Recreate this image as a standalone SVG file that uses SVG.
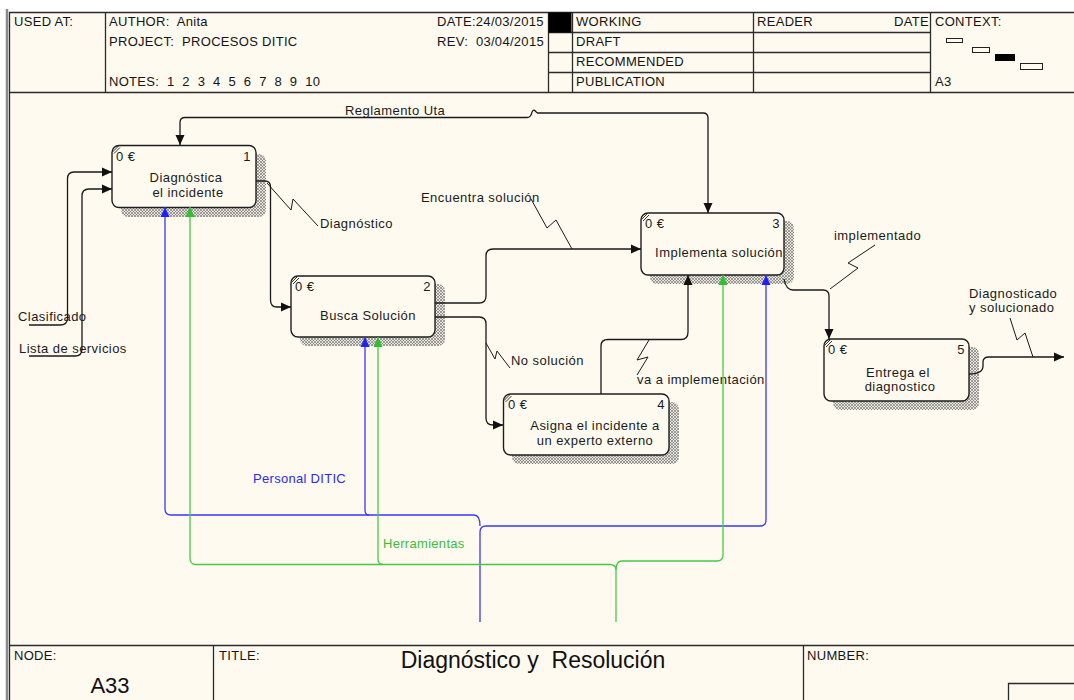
<svg xmlns="http://www.w3.org/2000/svg" width="1074" height="700" viewBox="0 0 1074 700">
  <defs>
    <style>
      text { white-space: pre; }
      .frame { fill: none; stroke: #2b2b2b; stroke-width: 1.3; }
      .hdr { font-family: "Liberation Sans", Arial, sans-serif; font-size: 13px; letter-spacing: 0.3px; fill: #141414; }
      .lbl { font-family: "Liberation Sans", Arial, sans-serif; font-size: 13px; letter-spacing: 0.45px; fill: #1a1a1a; }
      .ctr { text-anchor: middle; }
      .end { text-anchor: end; }
      .box { fill: #FFFAF0; stroke: #1e1e1e; stroke-width: 1.4; }
      .shadow { fill: url(#hatch); }
      .tick { stroke: #1e1e1e; stroke-width: 0.9; fill: none; }
      .arr { fill: none; stroke: #1a1a1a; stroke-width: 1.3; }
      .arr-k { marker-end: url(#headK); }
      .blue { fill: none; stroke: #3838f8; stroke-width: 1.3; }
      .green { fill: none; stroke: #48c848; stroke-width: 1.3; }
      .squig { fill: none; stroke: #1a1a1a; stroke-width: 1; }
    </style>
    <pattern id="hatch" width="3" height="3" patternUnits="userSpaceOnUse">
      <rect width="3" height="3" fill="#ebe7df"/>
      <path d="M0,0 L3,3 M3,0 L0,3" stroke="#6a6a6a" stroke-width="0.6"/>
    </pattern>
    <marker id="headK" markerWidth="12" markerHeight="10" refX="10" refY="5" orient="auto" markerUnits="userSpaceOnUse">
      <path d="M0,0.5 L10,5 L0,9.5 z" fill="#111"/>
    </marker>
    <marker id="headB" markerWidth="12" markerHeight="10" refX="10" refY="5" orient="auto" markerUnits="userSpaceOnUse">
      <path d="M0,0.5 L10,5 L0,9.5 z" fill="#2020ff"/>
    </marker>
    <marker id="headG" markerWidth="12" markerHeight="10" refX="10" refY="5" orient="auto" markerUnits="userSpaceOnUse">
      <path d="M0,0.5 L10,5 L0,9.5 z" fill="#30c030"/>
    </marker>
  </defs>

  <!-- page -->
  <rect x="0" y="0" width="1074" height="700" fill="#ffffff"/>
  <rect x="9" y="12" width="1070" height="700" fill="#FFFAF0"/>
  <line x1="7" y1="9" x2="7" y2="700" stroke="#8a8a8a" stroke-width="2.5"/>

  <!-- title block (header) -->
  <g id="header">
    <path class="frame" d="M9.5,700 V12.5 H1074 M9.5,92.5 H1074"/>
    <path class="frame" d="M105.5,12.5 V92.5 M548.5,12.5 V92.5 M572.5,12.5 V92.5 M753.5,12.5 V92.5 M930.5,12.5 V92.5"/>
    <path class="frame" d="M548.5,32.5 H930.5 M548.5,52.5 H930.5 M548.5,72.5 H930.5"/>
    <text class="hdr" x="14" y="26">USED AT:</text>
    <text class="hdr" x="109" y="26">AUTHOR:  Anita</text>
    <text class="hdr" x="109" y="46">PROJECT:  PROCESOS DITIC</text>
    <text class="hdr" x="109" y="86">NOTES:  1  2  3  4  5  6  7  8  9  10</text>
    <text class="hdr" x="437" y="26" letter-spacing="0.7">DATE:24/03/2015</text>
    <text class="hdr" x="437" y="46" letter-spacing="0.6">REV:  03/04/2015</text>
    <rect x="548.5" y="12.5" width="23" height="20" fill="#000"/>
    <text class="hdr" x="576" y="26">WORKING</text>
    <text class="hdr" x="576" y="46">DRAFT</text>
    <text class="hdr" x="576" y="66">RECOMMENDED</text>
    <text class="hdr" x="576" y="86">PUBLICATION</text>
    <text class="hdr" x="757" y="26">READER</text>
    <text class="hdr end" x="929" y="26">DATE</text>
    <text class="hdr" x="935" y="26">CONTEXT:</text>
    <text class="hdr" x="935" y="86">A3</text>
    <rect x="946.5" y="38.5" width="16" height="4" fill="none" stroke="#222" stroke-width="1"/>
    <rect x="972.5" y="47.5" width="17" height="5" fill="none" stroke="#222" stroke-width="1"/>
    <rect x="995.5" y="54.5" width="19" height="6" fill="#000" stroke="#000" stroke-width="1"/>
    <rect x="1020.5" y="63.5" width="22" height="6" fill="none" stroke="#222" stroke-width="1"/>
  </g>

  <!-- title block (footer) -->
  <g id="footer">
    <path class="frame" d="M9.5,645.5 H1074 M213.5,645.5 V700 M803.5,645.5 V700 M1008.5,700 V683.5 H1074"/>
    <text class="hdr" x="14" y="660">NODE:</text>
    <text class="hdr" x="219" y="660">TITLE:</text>
    <text class="hdr" x="807" y="660">NUMBER:</text>
    <text x="110" y="693" text-anchor="middle" font-family="'Liberation Sans', Arial, sans-serif" font-size="22" fill="#111">A33</text>
    <text x="533" y="668" text-anchor="middle" font-family="'Liberation Sans', Arial, sans-serif" font-size="23" fill="#111">Diagnóstico y  Resolución</text>
  </g>

  <!-- activity 1 -->
  <g id="node-1">
    <rect class="shadow" x="121" y="154" width="145" height="63" rx="7"/>
    <rect class="box" x="112" y="145.5" width="144" height="62" rx="7"/>
    <path class="tick" d="M112.5,152 L118.5,146 M114,153.5 L120,147.5"/>
    <text class="lbl" x="116" y="161">0 €</text>
    <text class="lbl end" x="251" y="161">1</text>
    <text class="lbl ctr" x="186" y="182">Diagnóstica</text>
    <text class="lbl ctr" x="188" y="197">el incidente</text>
  </g>

  <!-- activity 2 -->
  <g id="node-2">
    <rect class="shadow" x="300" y="284" width="145" height="62" rx="7"/>
    <rect class="box" x="291" y="276" width="144" height="61" rx="7"/>
    <path class="tick" d="M291.5,282.5 L297.5,276.5 M293,284 L299,278"/>
    <text class="lbl" x="295" y="291">0 €</text>
    <text class="lbl end" x="431" y="291">2</text>
    <text class="lbl ctr" x="368" y="320">Busca Solución</text>
  </g>

  <!-- activity 3 -->
  <g id="node-3">
    <rect class="shadow" x="650" y="221" width="144" height="63" rx="7"/>
    <rect class="box" x="641" y="213" width="143" height="62" rx="7"/>
    <path class="tick" d="M641.5,219.5 L647.5,213.5 M643,221 L649,215"/>
    <text class="lbl" x="645" y="228">0 €</text>
    <text class="lbl end" x="780" y="228">3</text>
    <text class="lbl ctr" x="719" y="257">Implementa solución</text>
  </g>

  <!-- activity 4 -->
  <g id="node-4">
    <rect class="shadow" x="512" y="402" width="167" height="62" rx="7"/>
    <rect class="box" x="503.5" y="394" width="165.5" height="61" rx="7"/>
    <path class="tick" d="M504,400.5 L510,394.5 M505.5,402 L511.5,396"/>
    <text class="lbl" x="508" y="409">0 €</text>
    <text class="lbl end" x="665" y="409">4</text>
    <text class="lbl ctr" x="595" y="430">Asigna el incidente a</text>
    <text class="lbl ctr" x="595" y="445">un experto externo</text>
  </g>

  <!-- activity 5 -->
  <g id="node-5">
    <rect class="shadow" x="833" y="347" width="146" height="63" rx="7"/>
    <rect class="box" x="824" y="339" width="145" height="62" rx="7"/>
    <path class="tick" d="M824.5,345.5 L830.5,339.5 M826,347 L832,341"/>
    <text class="lbl" x="828" y="354">0 €</text>
    <text class="lbl end" x="965" y="354">5</text>
    <text class="lbl ctr" x="898" y="377">Entrega el</text>
    <text class="lbl ctr" x="900" y="391">diagnostico</text>
  </g>

  <!-- arrows -->
  <g id="connectors">
    <!-- control: Reglamento Uta -->
    <path class="arr arr-k" d="M527,117.5 H185 Q180,117.5 180,122.5 V145"/>
    <path class="arr" d="M527,117.5 Q531,117.5 532,112 Q534,108 537,113"/>
    <path class="arr arr-k" d="M537,113 H703 Q708,113 708,118 V213"/>
    <text class="lbl" x="345" y="115">Reglamento Uta</text>

    <!-- inputs -->
    <path class="arr arr-k" d="M29,325 H60 Q67.5,325 67.5,318 V179 Q67.5,172 74,172 H112"/>
    <text class="lbl" x="18" y="321">Clasificado</text>
    <path class="arr arr-k" d="M29,356 H75 Q82,356 82,349 V196 Q82,189 89,189 H112"/>
    <text class="lbl" x="19" y="353">Lista de servicios</text>

    <!-- Diagnóstico -->
    <path class="arr arr-k" d="M256,181 H265 Q270.5,181 270.5,187 V300 Q270.5,307 277,307 H291"/>
    <path class="squig" d="M267,183 L291,210 L293,199 L318,226"/>
    <text class="lbl" x="320" y="228">Diagnóstico</text>

    <!-- Encuentra solución -->
    <path class="arr arr-k" d="M435,303 H479 Q486,303 486,296 V256 Q486,249 493,249 H641"/>
    <path class="squig" d="M572,249 L556,220 L547,228 L531,199"/>
    <text class="lbl" x="421" y="202">Encuentra solución</text>

    <!-- No solución -->
    <path class="arr arr-k" d="M435,317 H479 Q486,317 486,324 V418 Q486,425 493,425 H503"/>
    <path class="squig" d="M486,343 L495,359 L497,351 L510,368"/>
    <text class="lbl" x="511" y="365">No solución</text>

    <!-- va a implementación -->
    <path class="arr arr-k" d="M601,394 V346 Q601,339.5 608,339.5 H681 Q688,339.5 688,332 V275"/>
    <path class="squig" d="M649,340 L637,360 L648,357 L637,375"/>
    <text class="lbl" x="637" y="384">va a implementación</text>

    <!-- implementado -->
    <path class="arr arr-k" d="M784,279 Q786,290 793,290 H823 Q829,290 829,296 V339"/>
    <path class="squig" d="M830,289 L858,268 L848,263 L875,245"/>
    <text class="lbl" x="834" y="240">implementado</text>

    <!-- output: Diagnosticado y solucionado -->
    <path class="arr arr-k" d="M969,374 Q983,374 983,366 V362 Q983,357 989,357 H1064"/>
    <path class="squig" d="M1033,357 L1025,333 L1017,340 L1010,318"/>
    <text class="lbl" x="969" y="298">Diagnosticado</text>
    <text class="lbl" x="969" y="312">y solucionado</text>

    <!-- mechanism: Personal DITIC -->
    <path class="blue" marker-end="url(#headB)" d="M480,622 V532 Q480,526 486,526 H760 Q766,526 766,520 V275"/>
    <path class="blue" marker-end="url(#headB)" d="M480,526 Q480,515 474,515 H171 Q165,515 165,509 V207"/>
    <path class="blue" marker-end="url(#headB)" d="M369,515 Q365,515 365,510 V337"/>
    <text x="253" y="483" font-family="'Liberation Sans', Arial, sans-serif" font-size="13" letter-spacing="0.3" fill="#2a2af0">Personal DITIC</text>

    <!-- mechanism: Herramientas -->
    <path class="green" marker-end="url(#headG)" d="M616,622 V570 Q616,564.5 610,564.5 H196 Q190,564.5 190,558 V207"/>
    <path class="green" marker-end="url(#headG)" d="M616,570 Q616,561 622,561 H717 Q723,561 723,555 V275"/>
    <path class="green" marker-end="url(#headG)" d="M383,564.5 Q378,564.5 378,559 V337"/>
    <text x="383" y="548" font-family="'Liberation Sans', Arial, sans-serif" font-size="13" letter-spacing="0.3" fill="#3cbc3c">Herramientas</text>
  </g>
</svg>
